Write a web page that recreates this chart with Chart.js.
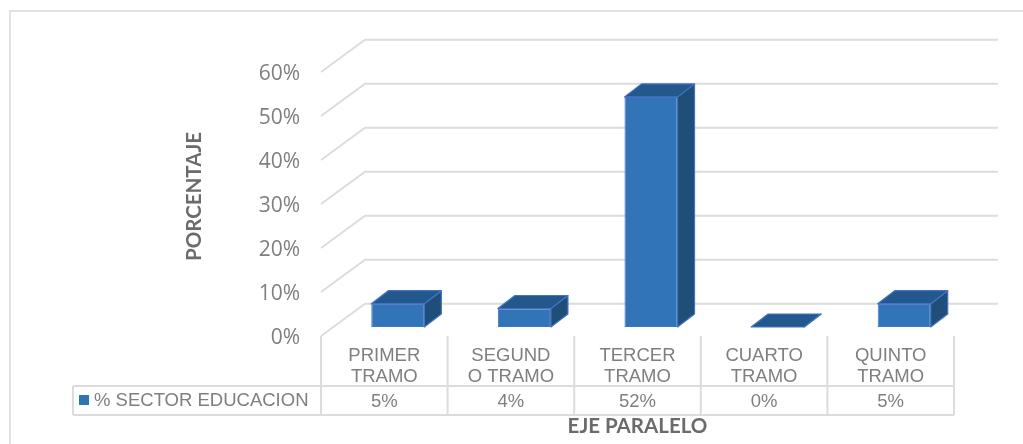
<!DOCTYPE html>
<html>
<head>
<meta charset="utf-8">
<style>
html, body { margin: 0; padding: 0; background: #fff; }
#wrap { width: 1023px; height: 444px; }
</style>
<script src="https://cdn.jsdelivr.net/npm/chart.js@4"></script>
</head>
<body>
<div id="wrap"><canvas id="myChart" width="1023" height="444"></canvas></div>
<script>
const categories = [['PRIMER', 'TRAMO'], ['SEGUND', 'O TRAMO'], ['TERCER', 'TRAMO'], ['CUARTO', 'TRAMO'], ['QUINTO', 'TRAMO']];
const seriesName = '% SECTOR EDUCACION';
const sectorValues = [5.3, 4.2, 52.3, 0, 5.3];
const tableLabels = ['5%', '4%', '52%', '0%', '5%'];

const textColor = '#7f7f7f';
const lineColor = '#dcdcdc';

// the 3d look: how far the back wall sits from the front plane, and where the bars sit in between
const wallDx = 44, wallDy = 32.3;
const barDx = 13.5, barDy = 9, barDepthX = 17, barDepthY = 13;

const walls3d = {
    id: 'walls3d',
    beforeDraw(chart) {
        const ctx = chart.ctx;
        const { left, right, bottom } = chart.chartArea;
        ctx.save();
        // outer frame, only top and left show in the picture
        ctx.strokeStyle = '#e2e2e2';
        ctx.lineWidth = 2;
        ctx.beginPath();
        ctx.moveTo(10, 444);
        ctx.lineTo(10, 11);
        ctx.lineTo(1023, 11);
        ctx.stroke();

        ctx.strokeStyle = lineColor;
        ctx.lineWidth = 2;
        chart.scales.y.ticks.forEach(t => {
            const y = chart.scales.y.getPixelForValue(t.value);
            ctx.beginPath();
            ctx.moveTo(left, y);
            ctx.lineTo(left + wallDx, y - wallDy);
            ctx.lineTo(right + wallDx, y - wallDy);
            ctx.stroke();
        });

        // data table under the axis
        const rowTop = 386, rowBottom = 415, tableLeft = 73;
        const step = (right - left) / categories.length;
        ctx.beginPath();
        ctx.moveTo(tableLeft, rowTop);
        ctx.lineTo(right, rowTop);
        ctx.moveTo(tableLeft, rowBottom);
        ctx.lineTo(right, rowBottom);
        ctx.moveTo(tableLeft, rowTop);
        ctx.lineTo(tableLeft, rowBottom);
        for (let i = 0; i <= categories.length; i++) {
            ctx.moveTo(left + i * step, bottom);
            ctx.lineTo(left + i * step, rowBottom);
        }
        ctx.stroke();

        ctx.fillStyle = '#2e75b6';
        ctx.fillRect(79, 395, 10, 10);
        ctx.fillStyle = textColor;
        ctx.font = '18.5px "Liberation Sans"';
        ctx.textBaseline = 'middle';
        ctx.textAlign = 'left';
        ctx.fillText(seriesName, 94, 400.5);
        ctx.textAlign = 'center';
        tableLabels.forEach((txt, i) => {
            ctx.fillText(txt, chart.scales.x.getPixelForValue(i), 401.5);
        });

        // y title sits a bit above the axis middle, so it is placed by hand
        ctx.translate(194.5, 196.5);
        ctx.rotate(-Math.PI / 2);
        ctx.fillStyle = '#6b6b6b';
        ctx.font = 'bold 20.5px Lato';
        ctx.fillText('PORCENTAJE', 0, 0);
        ctx.restore();
    },
    beforeDatasetsDraw(chart) {
        const ctx = chart.ctx;
        const meta = chart.getDatasetMeta(0);
        ctx.save();
        ctx.translate(barDx, -barDy);
        ctx.lineWidth = 1.2;
        ctx.strokeStyle = '#4472c4';
        ctx.lineJoin = 'round';
        meta.data.forEach(bar => {
            const l = bar.x - bar.width / 2, r = bar.x + bar.width / 2;
            const t = bar.y, b = bar.base;
            // right side
            ctx.fillStyle = '#1f4e79';
            ctx.beginPath();
            ctx.moveTo(r, t);
            ctx.lineTo(r + barDepthX, t - barDepthY);
            ctx.lineTo(r + barDepthX, b - barDepthY);
            ctx.lineTo(r, b);
            ctx.closePath();
            ctx.fill();
            ctx.stroke();
            // top
            ctx.fillStyle = '#22588c';
            ctx.beginPath();
            ctx.moveTo(l, t);
            ctx.lineTo(l + barDepthX, t - barDepthY);
            ctx.lineTo(r + barDepthX, t - barDepthY);
            ctx.lineTo(r, t);
            ctx.closePath();
            ctx.fill();
            ctx.stroke();
        });
        ctx.restore();
        // front faces are the library's own bars, moved into the depth of the floor
        ctx.save();
        ctx.translate(barDx, -barDy);
    },
    afterDatasetsDraw(chart) {
        chart.ctx.restore();
    }
};

new Chart(document.getElementById('myChart').getContext('2d'), {
    type: 'bar',
    data: {
        labels: categories,
        datasets: [{
            label: seriesName,
            data: sectorValues,
            backgroundColor: '#3274b8',
            borderColor: '#4472c4',
            borderWidth: 1,
            borderSkipped: false,
            categoryPercentage: 1,
            barPercentage: 0.419,
            clip: false
        }]
    },
    plugins: [walls3d],
    options: {
        responsive: false,
        animation: false,
        layout: { padding: { left: 180, top: 72, right: 69, bottom: 0 } },
        plugins: { legend: { display: false }, tooltip: { enabled: false } },
        scales: {
            x: {
                grid: { display: false },
                border: { display: false },
                afterFit: scale => { scale.height = 108; },
                ticks: {
                    color: textColor,
                    font: { family: '"Liberation Sans"', size: 18.5, lineHeight: 1.12 },
                    padding: 2,
                    maxRotation: 0,
                    autoSkip: false
                },
                title: {
                    display: true,
                    text: 'EJE PARALELO',
                    color: '#6b6b6b',
                    font: { family: 'Lato', size: 20.5, weight: 'bold' },
                    padding: { top: 0, bottom: 5 }
                }
            },
            y: {
                min: 0,
                max: 60,
                grid: { display: false },
                border: { display: false },
                afterFit: scale => { scale.width = 141; },
                ticks: {
                    stepSize: 10,
                    color: textColor,
                    font: { family: '"Open Sans"', size: 21 },
                    padding: 13,
                    labelOffset: 2,
                    callback: v => v + '%'
                }
            }
        }
    }
});
</script>
</body>
</html>
